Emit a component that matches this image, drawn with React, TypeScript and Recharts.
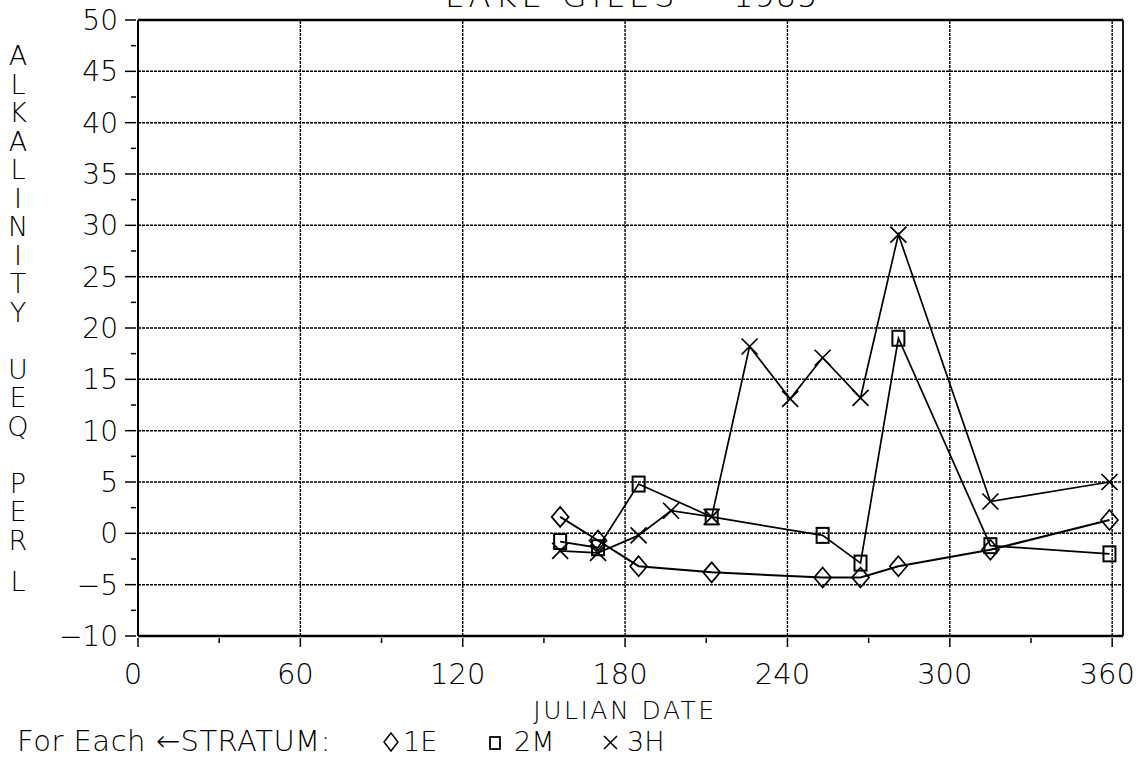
import { LineChart, Line, XAxis, YAxis, ReferenceLine, Customized } from "recharts";

// Lake Giles 1985 alkalinity by stratum
const DAYS_1E = [156, 170, 185, 212, 253, 267, 281, 315, 359];
const ALK_1E = [1.6, -0.7, -3.2, -3.8, -4.3, -4.3, -3.2, -1.6, 1.3];

const DAYS_2M = [156, 170, 185, 212, 253, 267, 281, 315, 359];
const ALK_2M = [-0.8, -1.4, 4.8, 1.6, -0.2, -2.9, 19.0, -1.2, -2.0];

const DAYS_3H = [156, 170, 185, 197, 212, 226, 241, 253, 267, 281, 315, 359];
const ALK_3H = [-1.7, -1.9, -0.2, 2.2, 1.6, 18.2, 13.1, 17.1, 13.2, 29.1, 3.1, 5.0];

const X_TICKS = [0, 30, 60, 90, 120, 150, 180, 210, 240, 270, 300, 330, 360];
const Y_TICKS = [-10, -7.5, -5, -2.5, 0, 2.5, 5, 7.5, 10, 12.5, 15, 17.5, 20, 22.5, 25, 27.5, 30, 32.5, 35, 37.5, 40, 42.5, 45, 47.5, 50];
const X_GRID = [60, 120, 180, 240, 300, 360];
const Y_GRID = [-5, 0, 5, 10, 15, 20, 25, 30, 35, 40, 45];

const TITLE = "LAKE GILES";
const TITLE_YEAR = "1985";
const Y_LABEL = "ALKALINITY UEQ PER L";
const X_LABEL = "JULIAN DATE";

const FONT = "'DejaVu Sans', sans-serif";

const toPoints = (days: number[], vals: number[]) =>
  days.map((d, i) => ({ day: d, value: vals[i] }));

const data1E = toPoints(DAYS_1E, ALK_1E);
const data2M = toPoints(DAYS_2M, ALK_2M);
const data3H = toPoints(DAYS_3H, ALK_3H);

const Diamond = (props: any) => {
  const { cx, cy } = props;
  if (cx == null || cy == null) return null;
  return (
    <path
      d={`M${cx},${cy - 10} L${cx + 8.5},${cy} L${cx},${cy + 10} L${cx - 8.5},${cy} Z`}
      fill="none"
      stroke="#000"
      strokeWidth={1.7}
    />
  );
};

const Square = (props: any) => {
  const { cx, cy } = props;
  if (cx == null || cy == null) return null;
  return (
    <rect x={cx - 6} y={cy - 7.5} width={12} height={15} fill="none" stroke="#000" strokeWidth={2} />
  );
};

const Cross = (props: any) => {
  const { cx, cy } = props;
  if (cx == null || cy == null) return null;
  return (
    <path
      d={`M${cx - 8},${cy - 8} L${cx + 8},${cy + 8} M${cx + 8},${cy - 8} L${cx - 8},${cy + 8}`}
      stroke="#000"
      strokeWidth={1.7}
    />
  );
};

const XTick = (props: any) => {
  const { x, y, payload } = props;
  const major = payload.value % 60 === 0;
  return (
    <g>
      <line x1={x} x2={x} y1={y} y2={y + (major ? 9 : 5)} stroke="#000" strokeWidth={1.5} />
      {major && (
        <text x={x - 5} y={y + 46} textAnchor="middle" fontSize={29} fontFamily={FONT} fontWeight={200} fill="#000">
          {payload.value}
        </text>
      )}
    </g>
  );
};

const YTick = (props: any) => {
  const { x, y, payload } = props;
  const v = payload.value;
  const major = v % 5 === 0;
  return (
    <g>
      <line x1={x - (major ? 11 : 5)} x2={x} y1={y} y2={y} stroke="#000" strokeWidth={1.5} />
      {major && (
        <text x={x - 18} y={y + 10} textAnchor="end" fontSize={28} fontFamily={FONT} fontWeight={200} fill="#000">
          {v < 0 ? `\u2212${Math.abs(v)}` : v}
        </text>
      )}
    </g>
  );
};

const Annotations = () => {
  const letters = Y_LABEL.split("");
  return (
    <g fontFamily={FONT} fontWeight={200} fill="#000">
      <text x={445} y={7} fontSize={32} letterSpacing={5}>{TITLE}</text>
      <text x={733} y={7} fontSize={32} letterSpacing={1}>{TITLE_YEAR}</text>
      {letters.map((ch, i) =>
        ch === " " ? null : (
          <text key={i} x={18} y={55 + i * 28.5 - (i >= 19 ? 16 : 0) + 10} textAnchor="middle" fontSize={27}>
            {ch}
          </text>
        )
      )}
      <text x={625} y={719} textAnchor="middle" fontSize={25} letterSpacing={2.5}>{X_LABEL}</text>
      <text x={17} y={751} fontSize={29} letterSpacing={0.5}>For Each {"\u2190"}STRATUM:</text>
      <path d="M391,733 L398,742 L391,751 L384,742 Z" fill="none" stroke="#000" strokeWidth={1.5} />
      <text x={403} y={751} fontSize={27}>1E</text>
      <rect x={490} y={737} width={10} height={12} fill="none" stroke="#000" strokeWidth={1.8} />
      <text x={514} y={751} fontSize={27}>2M</text>
      <path d="M604,736 L617,749 M617,736 L604,749" stroke="#000" strokeWidth={1.5} />
      <text x={627} y={751} fontSize={27}>3H</text>
    </g>
  );
};

export default function App() {
  return (
    <div style={{ position: "absolute", left: 0, top: 0, background: "#fff" }}>
      <LineChart width={1139} height={759} margin={{ top: 20, right: 16, left: 0, bottom: 0 }}>
        <XAxis
          dataKey="day"
          type="number"
          domain={[0, 364]}
          ticks={X_TICKS}
          interval={0}
          tick={<XTick />}
          tickLine={false}
          tickSize={0}
          height={123}
          axisLine={{ stroke: "#000", strokeWidth: 2.5 }}
          allowDataOverflow
        />
        <YAxis
          type="number"
          domain={[-10, 50]}
          ticks={Y_TICKS}
          interval={0}
          tick={<YTick />}
          tickLine={false}
          tickSize={0}
          width={138}
          axisLine={{ stroke: "#000", strokeWidth: 2 }}
          allowDataOverflow
        />
        {Y_GRID.map((v) => (
          <ReferenceLine key={`gy${v}`} y={v} stroke="#000" strokeWidth={1.5} strokeDasharray="3 1" />
        ))}
        {X_GRID.map((v) => (
          <ReferenceLine key={`gx${v}`} x={v} stroke="#000" strokeWidth={1.4} strokeDasharray="3 1" />
        ))}
        <ReferenceLine y={50} stroke="#000" strokeWidth={2.5} />
        <ReferenceLine x={364} stroke="#000" strokeWidth={1.8} />
        <Line data={data1E} dataKey="value" stroke="#000" strokeWidth={2} dot={<Diamond />} activeDot={false} isAnimationActive={false} />
        <Line data={data2M} dataKey="value" stroke="#000" strokeWidth={1.7} dot={<Square />} activeDot={false} isAnimationActive={false} />
        <Line data={data3H} dataKey="value" stroke="#000" strokeWidth={1.7} dot={<Cross />} activeDot={false} isAnimationActive={false} />
        <Customized component={Annotations} />
      </LineChart>
    </div>
  );
}
